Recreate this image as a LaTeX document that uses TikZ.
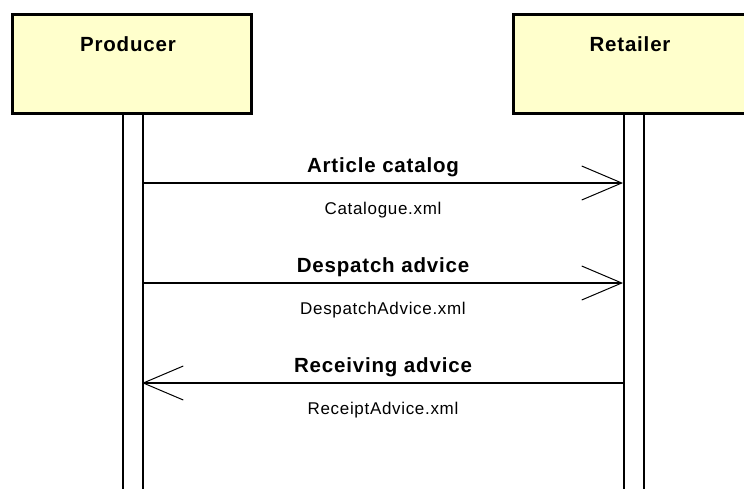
\documentclass[tikz,border=0pt]{standalone}
\usepackage{fontspec}
\setmainfont{Liberation Sans}
\usetikzlibrary{arrows.meta}
\newfontfamily\labfont[LetterSpace=4]{Liberation Sans}
\begin{document}
\begin{tikzpicture}[x=1pt,y=-1pt,
  actor/.style={draw=black,line width=3pt,fill={rgb,255:red,255;green,255;blue,204},minimum width=239pt,minimum height=99pt,inner sep=0pt,anchor=north west},
  lifeline/.style={draw=black,line width=1.8pt,fill=white,minimum width=20pt,minimum height=400pt,inner sep=0pt,anchor=north west},
  msg/.style={line width=1.4pt,-{Straight Barb[length=40pt,width=34pt,line width=1pt]}},
  title/.style={font=\labfont\fontsize{20.5}{24}\selectfont\bfseries,anchor=base},
  sub/.style={font=\labfont\fontsize{17}{20}\selectfont,anchor=base}]
\useasboundingbox (0,0) rectangle (744,488);
\clip (0,0) rectangle (744,488);
\node[lifeline] (pl) at (122,112) {};
\node[lifeline] (rl) at (623,112) {};
\node[actor] (prod) at (11,13) {};
\node[actor,minimum width=244pt] (ret) at (512,13) {};
\node[title] (prodt) at (128,51) {Producer};
\node[title] (rett) at (630,51) {Retailer};
\coordinate (a1s) at (142,183); \coordinate (a1e) at (623,183);
\coordinate (a2s) at (142,283); \coordinate (a2e) at (623,283);
\coordinate (a3s) at (623,383); \coordinate (a3e) at (142,383);
\draw[msg] (a1s) -- (a1e);
\draw[msg] (a2s) -- (a2e);
\draw[msg] (a3s) -- (a3e);
\node[title] (m1) at (383,172) {Article catalog};
\node[sub] (s1) at (383,214) {Catalogue.xml};
\node[title] (m2) at (383,272) {Despatch advice};
\node[sub] (s2) at (383,314) {DespatchAdvice.xml};
\node[title] (m3) at (383,372) {Receiving advice};
\node[sub] (s3) at (383,414) {ReceiptAdvice.xml};
\end{tikzpicture}
\end{document}
